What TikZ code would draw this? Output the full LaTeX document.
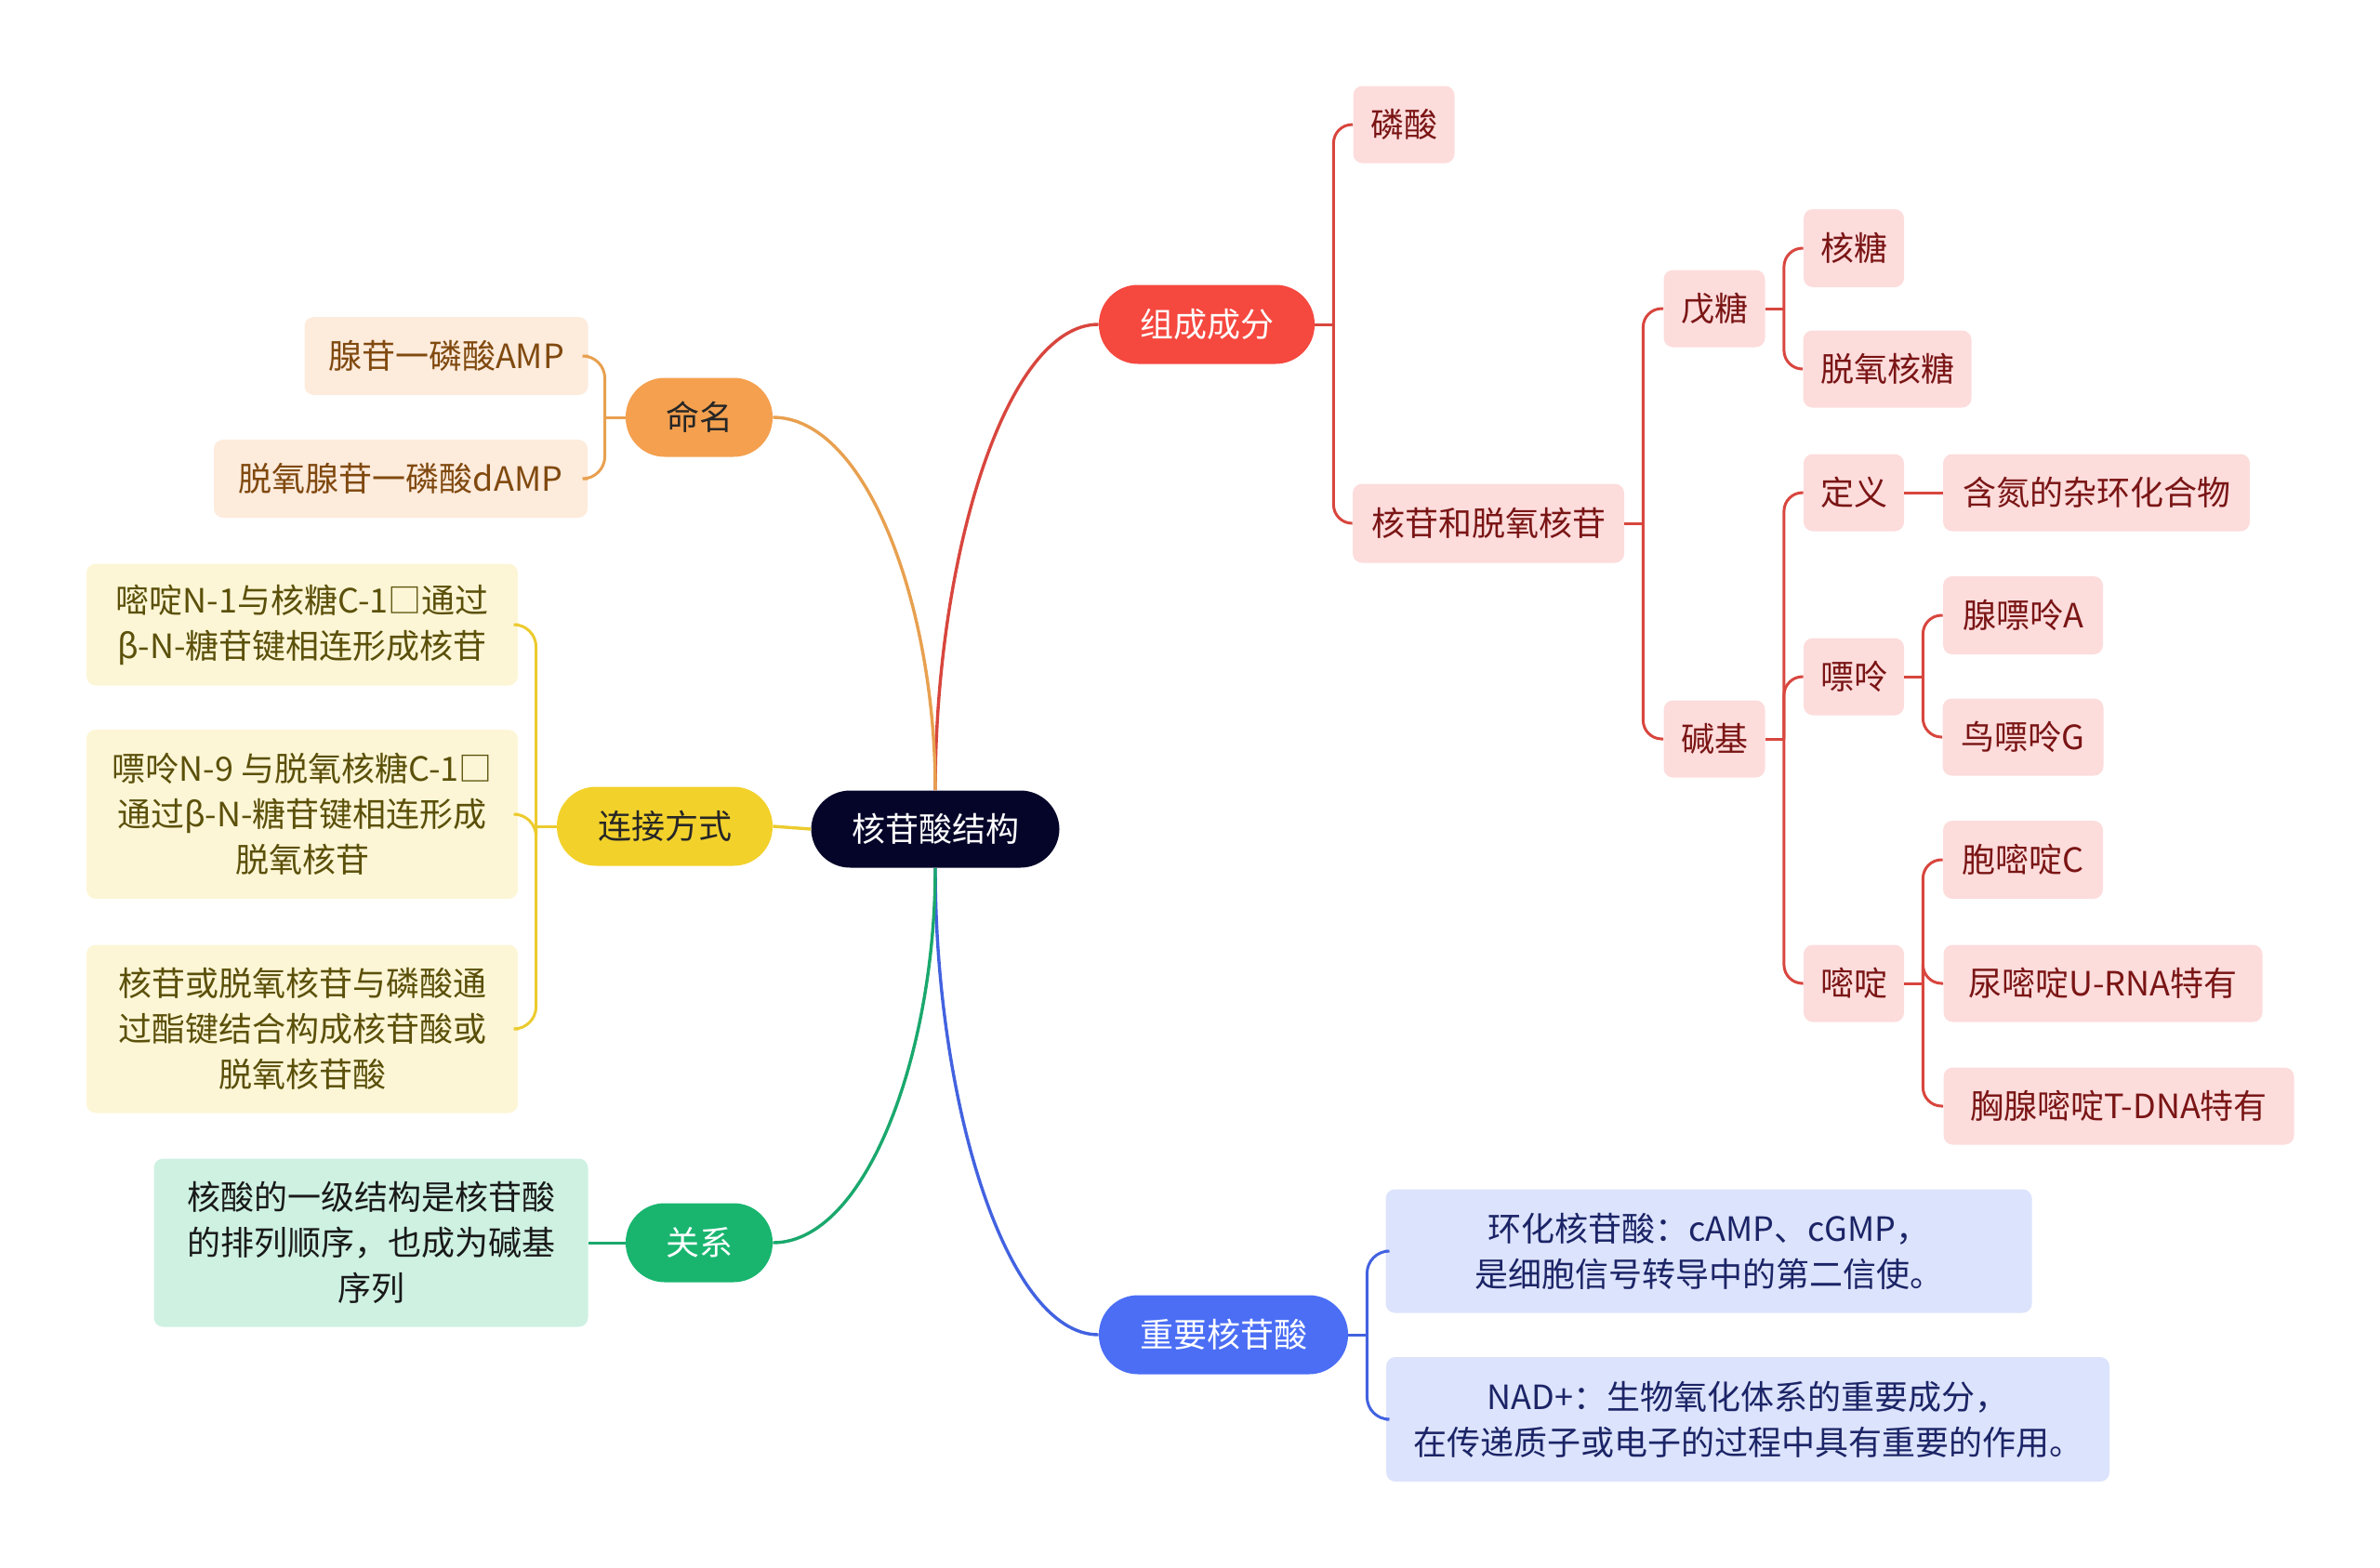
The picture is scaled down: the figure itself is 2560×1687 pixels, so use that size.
\documentclass[tikz,border=0pt]{standalone}
\usepackage{fontspec}
\setmainfont{Noto Sans CJK SC}
\usetikzlibrary{positioning}
\definecolor{rootc}{HTML}{05052A}
\definecolor{redc}{HTML}{F5483F}
\definecolor{redl}{HTML}{D8463E}
\definecolor{pinkc}{HTML}{FDDCDC}
\definecolor{pinkt}{HTML}{7A1515}
\definecolor{orangec}{HTML}{F4A04F}
\definecolor{orangel}{HTML}{E8A04F}
\definecolor{orangeb}{HTML}{FDEBDC}
\definecolor{oranget}{HTML}{80490F}
\definecolor{yellowc}{HTML}{F2D12B}
\definecolor{yellowl}{HTML}{ECCB2E}
\definecolor{yellowb}{HTML}{FDF6D6}
\definecolor{yellowt}{HTML}{5B500A}
\definecolor{greenc}{HTML}{19B56F}
\definecolor{greenl}{HTML}{1AA86D}
\definecolor{greenb}{HTML}{CEF1E2}
\definecolor{bluec}{HTML}{4B6EF5}
\definecolor{bluel}{HTML}{4262E0}
\definecolor{blueb}{HTML}{DCE3FC}
\definecolor{bluet}{HTML}{1B2466}
\newcommand\mmfont{\fontsize{18}{24.5}\selectfont}

\begin{document}
\begin{tikzpicture}[x=0.5pt,y=-0.5pt,
 pill/.style={rounded corners=21pt,minimum height=42.5pt,inner sep=0pt,font=\mmfont},
 leaf/.style={rounded corners=5pt,minimum height=42pt,inner sep=0pt,align=center,font=\mmfont},
 pink/.style={leaf,fill=pinkc,text=pinkt},
 main/.style={line width=1.7pt},
 sub/.style={line width=1.5pt}]
\useasboundingbox (0,0) rectangle (2560,1687);
% centre and first level
\node[pill,fill=rootc,text=white,minimum width=133.5pt,minimum height=41.5pt] (root) at (1006,892) {核苷酸结构};
\node[pill,fill=redc,text=white,minimum width=116pt] (comp) at (1298,349) {组成成分};
\node[pill,fill=bluec,text=white,minimum width=134pt] (impt) at (1316,1436) {重要核苷酸};
\node[pill,fill=orangec,text=black!85,minimum width=79pt] (name) at (752,449) {命名};
\node[pill,fill=yellowc,text=black!85,minimum width=116pt] (link) at (715,889) {连接方式};
\node[pill,fill=greenc,text=white,minimum width=79pt] (rel) at (752,1337) {关系};
% composition
\node[pink,minimum width=54.5pt,minimum height=41.5pt] (phos) at (1510,134) {磷酸};
\node[pink,minimum width=146pt,minimum height=42.5pt] (nucl) at (1601,563) {核苷和脱氧核苷};
\node[pink,minimum width=54.5pt,minimum height=41.5pt] (pent) at (1844,332) {戊糖};
\node[pink,minimum width=54.5pt,minimum height=41.5pt] (base) at (1844,795) {碱基};
\node[pink,minimum width=54pt] (ribo) at (1994,267) {核糖};
\node[pink,minimum width=90.5pt,minimum height=41.5pt] (dribo) at (2030,397) {脱氧核糖};
\node[pink,minimum width=54pt,minimum height=41.5pt] (defn) at (1994,530) {定义};
\node[pink,minimum width=165pt,minimum height=41.5pt] (hetero) at (2255,530) {含氮的杂环化合物};
\node[pink,minimum width=54pt,minimum height=41.5pt] (puri) at (1994,728) {嘌呤};
\node[pink,minimum width=86pt] (ade) at (2176,662) {腺嘌呤A};
\node[pink,minimum width=86.5pt,minimum height=41.5pt] (gua) at (2176,793) {鸟嘌呤G};
\node[pink,minimum width=54pt,minimum height=41.5pt] (pyri) at (1994,1058) {嘧啶};
\node[pink,minimum width=86pt] (cyt) at (2176,925) {胞嘧啶C};
\node[pink,minimum width=171.5pt,minimum height=41.5pt] (ura) at (2262,1058) {尿嘧啶U-RNA特有};
\node[pink,minimum width=188.5pt,minimum height=41.5pt] (thy) at (2279,1190) {胸腺嘧啶T-DNA特有};
% important nucleotides
\node[leaf,fill=blueb,text=bluet,minimum width=347.5pt,minimum height=66.5pt] (camp) at (1838,1346)
 {环化核苷酸：cAMP、cGMP，\\是细胞信号转导中的第二信使。};
\node[leaf,fill=blueb,text=bluet,minimum width=389pt,minimum height=67pt] (nad) at (1880,1527)
 {NAD+：生物氧化体系的重要成分，\\在传递质子或电子的过程中具有重要的作用。};
% naming, linkage, relation
\node[leaf,fill=orangeb,text=oranget,minimum width=152.5pt] (amp) at (480,383) {腺苷一磷酸AMP};
\node[leaf,fill=orangeb,text=oranget,minimum width=201pt] (damp) at (431,515) {脱氧腺苷一磷酸dAMP};
\node[leaf,fill=yellowb,text=yellowt,minimum width=232pt,minimum height=65.5pt] (conA) at (325,672)
 {嘧啶N-1与核糖C-1□通过\\β-N-糖苷键相连形成核苷};
\node[leaf,fill=yellowb,text=yellowt,minimum width=232pt,minimum height=91pt] (conB) at (325,876)
 {嘌呤N-9 与脱氧核糖C-1□\\通过β-N-糖苷键相连形成\\脱氧核苷};
\node[leaf,fill=yellowb,text=yellowt,minimum width=232pt,minimum height=90.5pt] (conC) at (325,1107)
 {核苷或脱氧核苷与磷酸通\\过酯键结合构成核苷酸或\\脱氧核苷酸};
\node[leaf,fill=greenb,text=black!90,minimum width=233.5pt,minimum height=90.5pt] (seq) at (399,1337)
 {核酸的一级结构是核苷酸\\的排列顺序，也成为碱基\\序列};
% main branches
\draw[main,redl] (root.north) .. controls +(0,-250) and +(-100,0) .. (comp.west);
\draw[main,bluel] (root.south) .. controls +(0,250) and +(-100,0) .. (impt.west);
\draw[main,orangel] (root.north) .. controls +(0,-200) and +(100,0) .. (name.east);
\draw[main,greenl] (root.south) .. controls +(0,200) and +(100,0) .. (rel.east);
\draw[main,yellowl] (root.west) -- (link.east);
% brackets
\foreach \p/\c in {comp/phos,comp/nucl,nucl/pent,nucl/base,pent/ribo,pent/dribo,base/defn,base/puri,base/pyri,puri/ade,puri/gua,pyri/cyt,pyri/ura,pyri/thy}{
  \draw[sub,redl] (\p.east) -- ++(20,0) coordinate (s);
  \draw[sub,redl,rounded corners=10pt] (s) |- (\c.west);
}
\draw[sub,redl] (defn.east) -- (hetero.west);
\foreach \c in {camp,nad}{
  \draw[sub,bluel] (impt.east) -- ++(20,0) coordinate (s);
  \draw[sub,bluel,rounded corners=12pt] (s) |- (\c.west);
}
\foreach \c in {amp,damp}{
  \draw[sub,orangel] (name.west) -- ++(-22,0) coordinate (s);
  \draw[sub,orangel,rounded corners=12pt] (s) |- (\c.east);
}
\foreach \c in {conA,conB,conC}{
  \draw[sub,yellowl] (link.west) -- ++(-22,0) coordinate (s);
  \draw[sub,yellowl,rounded corners=12pt] (s) |- (\c.east);
}
\draw[sub,greenl] (rel.west) -- (seq.east);
\end{tikzpicture}
\end{document}
